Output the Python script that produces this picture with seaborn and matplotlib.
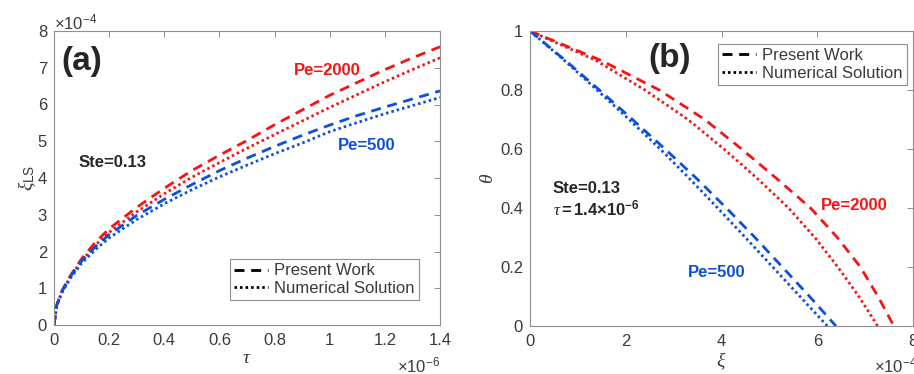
import matplotlib
matplotlib.use("Agg")
import matplotlib.pyplot as plt
from matplotlib.lines import Line2D
from matplotlib.ticker import FuncFormatter
import seaborn as sns
import pandas as pd

# ---- panel (a): interface position vs time (tau in units of 1e-6, xi in units of 1e-4)
tau = [0, 0.01, 0.03, 0.06, 0.1, 0.15, 0.2, 0.3, 0.4, 0.5, 0.6, 0.7, 0.8,
       0.9, 1.0, 1.1, 1.2, 1.3, 1.4]
xi_pe2000_present = [0, 0.55, 0.95, 1.35, 1.80, 2.25, 2.62, 3.20, 3.72, 4.20,
                     4.62, 5.02, 5.45, 5.85, 6.25, 6.60, 6.95, 7.27, 7.57]
xi_pe2000_numeric = [0, 0.54, 0.93, 1.32, 1.75, 2.17, 2.52, 3.08, 3.57, 4.02,
                     4.42, 4.81, 5.18, 5.55, 5.92, 6.27, 6.62, 6.95, 7.27]
xi_pe500_present = [0, 0.54, 0.93, 1.32, 1.74, 2.13, 2.46, 2.98, 3.42, 3.82,
                    4.20, 4.54, 4.86, 5.16, 5.44, 5.70, 5.93, 6.15, 6.37]
xi_pe500_numeric = [0, 0.52, 0.90, 1.28, 1.68, 2.05, 2.37, 2.87, 3.30, 3.68,
                    4.03, 4.35, 4.66, 4.95, 5.26, 5.51, 5.75, 5.97, 6.19]

# ---- panel (b): temperature profile at tau = 1.4e-6 (xi in units of 1e-4)
theta = [1.0, 0.9, 0.8, 0.7, 0.6, 0.5, 0.4, 0.3, 0.2, 0.1, 0.0]
prof_pe2000_present = [0, 1.49, 2.70, 3.65, 4.42, 5.15, 5.86, 6.42, 6.90, 7.27, 7.60]
prof_pe2000_numeric = [0, 1.38, 2.40, 3.30, 4.05, 4.75, 5.40, 5.95, 6.43, 6.87, 7.26]
prof_pe500_present = [0, 0.74, 1.45, 2.14, 2.82, 3.48, 4.10, 4.70, 5.27, 5.84, 6.39]
prof_pe500_numeric = [0, 0.72, 1.40, 2.07, 2.72, 3.33, 3.92, 4.50, 5.07, 5.64, 6.21]

RED = "#f41414"
BLUE = "#0b4fdc"
TXT = "#3a3a3a"
FRAME = "#8f8f8f"
DASH = (0, (3.6, 2.4))
DOT = (0, (0.9, 1.1))

sns.set_style("white")
plt.rcParams["font.family"] = ["Liberation Sans", "DejaVu Sans"]
plt.rcParams["mathtext.fontset"] = "custom"
plt.rcParams["mathtext.rm"] = "Liberation Sans"
plt.rcParams["mathtext.it"] = "Liberation Serif:italic"
plt.rcParams["mathtext.bf"] = "Liberation Sans:bold"

fig = plt.figure(figsize=(9.14, 3.74), dpi=100)
ax1 = fig.add_axes([54 / 914, 49 / 374, 386 / 914, 294 / 374])
ax2 = fig.add_axes([530 / 914, 48 / 374, 383 / 914, 295 / 374])

df_a = pd.DataFrame({"tau": tau,
                     "p2000": xi_pe2000_present, "n2000": xi_pe2000_numeric,
                     "p500": xi_pe500_present, "n500": xi_pe500_numeric})
for col, c, ls in [("p2000", RED, DASH), ("n2000", RED, DOT),
                   ("p500", BLUE, DASH), ("n500", BLUE, DOT)]:
    sns.lineplot(data=df_a, x="tau", y=col, ax=ax1, color=c, linestyle=ls,
                 linewidth=2.0, sort=False)

df_b = pd.DataFrame({"theta": theta,
                     "p2000": prof_pe2000_present, "n2000": prof_pe2000_numeric,
                     "p500": prof_pe500_present, "n500": prof_pe500_numeric})
for col, c, ls in [("p2000", RED, DASH), ("n2000", RED, DOT),
                   ("p500", BLUE, DASH), ("n500", BLUE, DOT)]:
    sns.lineplot(data=df_b, x=col, y="theta", ax=ax2, color=c, linestyle=ls,
                 linewidth=2.0, sort=False)

fmt = FuncFormatter(lambda v, p: f"{v:g}")
for ax in (ax1, ax2):
    for sp in ax.spines.values():
        sp.set_color(FRAME)
        sp.set_linewidth(0.8)
    ax.tick_params(direction="in", length=4, width=0.7, color=FRAME,
                   labelcolor=TXT, labelsize=12, top=True, right=True)
    ax.tick_params(axis="x", pad=6)
    ax.tick_params(axis="y", pad=5)
    ax.xaxis.set_major_formatter(fmt)
    ax.yaxis.set_major_formatter(fmt)

ax1.set_xlim(0, 1.4)
ax1.set_ylim(0, 8)
ax1.set_xticks([0, 0.2, 0.4, 0.6, 0.8, 1.0, 1.2, 1.4])
ax1.set_yticks(range(0, 9))
ax1.set_xlabel(r"$\tau$", fontsize=14, color=TXT, labelpad=1)
ax1.set_ylabel(r"$\xi_{\mathrm{LS}}$", fontsize=14, color=TXT, labelpad=0)
ax1.text(0.0, 0.995, r"$\times\mathrm{10^{-4}}$", transform=ax1.transAxes,
         ha="left", va="bottom", fontsize=12, color=TXT)
ax1.text(1.0, -0.105, r"$\times\mathrm{10^{-6}}$", transform=ax1.transAxes,
         ha="right", va="top", fontsize=12, color=TXT)

ax2.set_xlim(0, 8)
ax2.set_ylim(0, 1)
ax2.set_xticks([0, 2, 4, 6, 8])
ax2.set_yticks([0, 0.2, 0.4, 0.6, 0.8, 1.0])
ax2.set_xlabel(r"$\xi$", fontsize=14, color=TXT, labelpad=1)
ax2.set_ylabel(r"$\theta$", fontsize=14, color=TXT, labelpad=2)
ax2.text(0.898, -0.1, r"$\times\mathrm{10^{-4}}$", transform=ax2.transAxes,
         ha="left", va="top", fontsize=12, color=TXT)

# annotations
ax1.text(0.10, 7.18, "(a)", fontsize=24, fontweight="bold", ha="center", va="center")
ax1.text(0.992, 6.92, "Pe=2000", fontsize=12, fontweight="bold", color=RED,
         ha="center", va="center")
ax1.text(1.134, 4.88, "Pe=500", fontsize=12, fontweight="bold", color=BLUE,
         ha="center", va="center")
ax1.text(0.212, 4.43, "Ste=0.13", fontsize=12, fontweight="bold",
         ha="center", va="center")

ax2.text(2.92, 0.907, "(b)", fontsize=24, fontweight="bold", ha="center", va="center")
ax2.text(0.48, 0.466, "Ste=0.13", fontsize=12, fontweight="bold",
         ha="left", va="center")
ax2.text(0.48, 0.40, r"$\tau\mathbf{=1.4{\times}10^{-6}}$", fontsize=12,
         ha="left", va="center")
ax2.text(6.77, 0.408, "Pe=2000", fontsize=12, fontweight="bold", color=RED,
         ha="center", va="center")
ax2.text(3.89, 0.181, "Pe=500", fontsize=12, fontweight="bold", color=BLUE,
         ha="center", va="center")

handles = [Line2D([], [], color="black", linestyle=DASH, linewidth=2.0),
           Line2D([], [], color="black", linestyle=DOT, linewidth=2.0)]
labels = ["Present Work", "Numerical Solution"]
for ax, loc in [(ax1, (0.456, 0.085)), (ax2, (0.491, 0.817))]:
    leg = ax.legend(handles, labels, loc="lower left", bbox_to_anchor=loc,
                    fontsize=12, frameon=True, fancybox=False, framealpha=1,
                    handlelength=2.0, handletextpad=0.4, borderpad=0.25,
                    labelspacing=0.15, borderaxespad=0)
    leg.get_frame().set_edgecolor(FRAME)
    leg.get_frame().set_linewidth(0.8)
    for t in leg.get_texts():
        t.set_color(TXT)

fig.savefig("out.png", dpi=100)
